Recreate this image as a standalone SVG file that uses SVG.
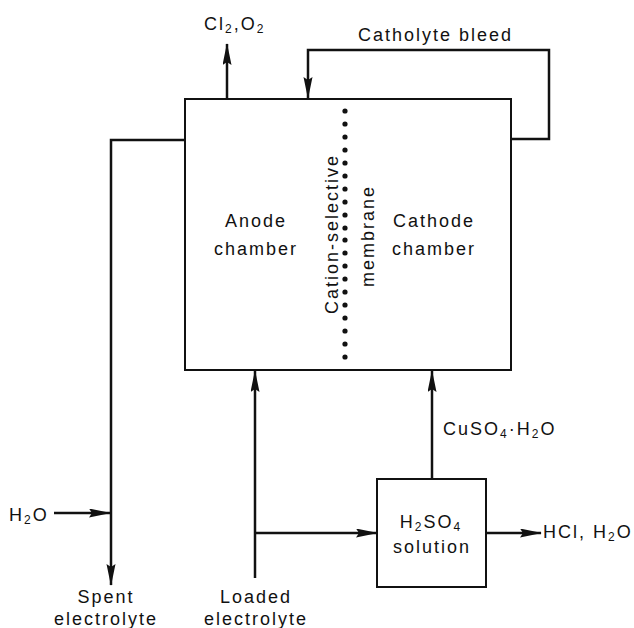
<svg xmlns="http://www.w3.org/2000/svg" width="634" height="628" viewBox="0 0 634 628">
<style>
  .box { fill: #fff; stroke: #111; stroke-width: 2; }
  .line { fill: none; stroke: #111; stroke-width: 2.5; }
  .t { font-family: "Liberation Sans", Arial, sans-serif; font-size: 18px; fill: #111; letter-spacing: 2px; }
  .c { text-anchor: middle; }
  .sub { font-size: 12px; }
  .dot { fill: #111; }
</style>
<defs>
  <marker id="ah" markerUnits="userSpaceOnUse" markerWidth="22" markerHeight="10" refX="21" refY="4.5" orient="auto">
    <path d="M0,0 L22,4.5 L0,9 L3,4.5 z" fill="#111"/>
  </marker>
</defs>
<rect width="634" height="628" fill="#fff"/>

<g id="connectors">
  <!-- Cl2, O2 out -->
  <path class="line" d="M227,99 L227,44" marker-end="url(#ah)"/>
  <!-- Catholyte bleed loop -->
  <path class="line" d="M511,139 L549,139 L549,50 L308,50 L308,98" marker-end="url(#ah)"/>
  <!-- Spent electrolyte -->
  <path class="line" d="M185,140 L111,140 L111,585" marker-end="url(#ah)"/>
  <!-- H2O in -->
  <path class="line" d="M54,513 L110,513" marker-end="url(#ah)"/>
  <!-- Loaded electrolyte up to anode -->
  <path class="line" d="M255,578 L255,371" marker-end="url(#ah)"/>
  <!-- branch to H2SO4 -->
  <path class="line" d="M255,533 L377,533" marker-end="url(#ah)"/>
  <!-- CuSO4 up to cathode -->
  <path class="line" d="M432,479 L432,371" marker-end="url(#ah)"/>
  <!-- HCl out -->
  <path class="line" d="M486,533 L541,533" marker-end="url(#ah)"/>
</g>

<g id="cell">
  <rect class="box" x="185" y="99" width="326" height="271"/>
  <text class="t c" x="256" y="227">Anode</text>
  <text class="t c" x="256" y="255">chamber</text>
  <text class="t c" x="434" y="227">Cathode</text>
  <text class="t c" x="434" y="255">chamber</text>
</g>

<g id="membrane">
  <circle class="dot" cx="345" cy="111" r="2.6"/>
  <circle class="dot" cx="345" cy="124" r="2.6"/>
  <circle class="dot" cx="345" cy="137" r="2.6"/>
  <circle class="dot" cx="345" cy="150" r="2.6"/>
  <circle class="dot" cx="345" cy="163" r="2.6"/>
  <circle class="dot" cx="345" cy="176" r="2.6"/>
  <circle class="dot" cx="345" cy="189" r="2.6"/>
  <circle class="dot" cx="345" cy="202" r="2.6"/>
  <circle class="dot" cx="345" cy="215" r="2.6"/>
  <circle class="dot" cx="345" cy="228" r="2.6"/>
  <circle class="dot" cx="345" cy="240" r="2.6"/>
  <circle class="dot" cx="345" cy="253" r="2.6"/>
  <circle class="dot" cx="345" cy="266" r="2.6"/>
  <circle class="dot" cx="345" cy="279" r="2.6"/>
  <circle class="dot" cx="345" cy="292" r="2.6"/>
  <circle class="dot" cx="345" cy="305" r="2.6"/>
  <circle class="dot" cx="345" cy="318" r="2.6"/>
  <circle class="dot" cx="345" cy="331" r="2.6"/>
  <circle class="dot" cx="345" cy="344" r="2.6"/>
  <circle class="dot" cx="345" cy="357" r="2.6"/>
  <text class="t c" transform="translate(338,234) rotate(-90)">Cation-selective</text>
  <text class="t c" transform="translate(374,236) rotate(-90)">membrane</text>
</g>

<g id="h2so4">
  <rect class="box" x="377" y="479" width="109" height="108"/>
  <text class="t c" x="431" y="528">H<tspan class="sub" dy="3">2</tspan><tspan dy="-3">SO</tspan><tspan class="sub" dy="3">4</tspan></text>
  <text class="t c" x="432" y="553">solution</text>
</g>

<g id="labels">
  <text class="t" x="204" y="30">Cl<tspan class="sub" dy="3">2</tspan><tspan dy="-3">,O</tspan><tspan class="sub" dy="3">2</tspan></text>
  <text class="t" x="358" y="41">Catholyte bleed</text>
  <text class="t" x="9" y="521">H<tspan class="sub" dy="3">2</tspan><tspan dy="-3">O</tspan></text>
  <text class="t c" x="106" y="603">Spent</text>
  <text class="t c" x="106" y="625">electrolyte</text>
  <text class="t c" x="256" y="603">Loaded</text>
  <text class="t c" x="256" y="625">electrolyte</text>
  <text class="t" x="443" y="435">CuSO<tspan class="sub" dy="3">4</tspan><tspan dy="-3">·H</tspan><tspan class="sub" dy="3">2</tspan><tspan dy="-3">O</tspan></text>
  <text class="t" x="543" y="538">HCl, H<tspan class="sub" dy="3">2</tspan><tspan dy="-3">O</tspan></text>
</g>
</svg>
